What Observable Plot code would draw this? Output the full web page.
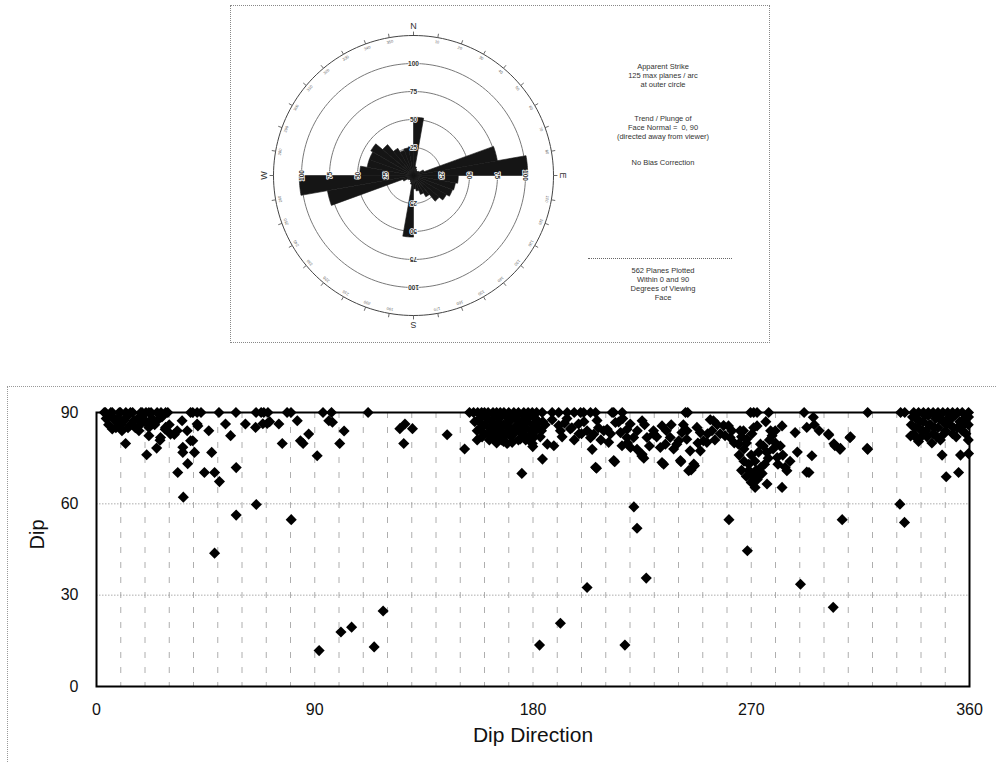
<!DOCTYPE html>
<html>
<head>
<meta charset="utf-8">
<script src="https://cdn.jsdelivr.net/npm/d3@7"></script>
<script src="https://cdn.jsdelivr.net/npm/@observablehq/plot@0.6"></script>
<style>
  body { margin: 0; background: #fff; font-family: "Liberation Sans", Arial, sans-serif; }
  #wrap { position: relative; width: 996px; height: 762px; overflow: hidden; background: #fff; }
  #rosebox { position: absolute; left: 230px; top: 5px; width: 538px; height: 336px; border: 1px dotted #888; }
  #rose { position: absolute; left: 0; top: 0; }
  #scatter { position: absolute; left: 0; top: 386px; }
  #scatterTop { position: absolute; left: 7px; top: 386px; width: 989px; height: 0; border-top: 1px dotted #999; }
  #scatterLeft { position: absolute; left: 7px; top: 386px; width: 0; height: 376px; border-left: 1px dotted #999; }
  .note { position: absolute; left: 583px; width: 160px; text-align: center; font-size: 7.5px; line-height: 9px; color: #333; }
  #noteRule { position: absolute; left: 588px; top: 258px; width: 144px; height: 0; border-top: 1px dotted #666; }
</style>
</head>
<body>
<div id="wrap">
  <div id="rosebox"><div id="rose"></div></div>
  <div class="note" style="top:62px">Apparent Strike<br>125 max planes / arc<br>at outer circle</div>
  <div class="note" style="top:114px">Trend / Plunge of<br>Face Normal =&nbsp; 0, 90<br>(directed away from viewer)</div>
  <div class="note" style="top:158px">No Bias Correction</div>
  <div id="noteRule"></div>
  <div class="note" style="top:266px">562 Planes Plotted<br>Within 0 and 90<br>Degrees of Viewing<br>Face</div>
  <div id="scatterTop"></div>
  <div id="scatterLeft"></div>
  <div id="scatter"></div>
</div>
<script>
// ---------------- Rose diagram data ----------------
const binStart = [0,10,20,30,40,50,60,70,80,90,100,110,120,130,140,150,160,170,
                  180,190,200,210,220,230,240,250,260,270,280,290,300,310,320,330,340,350];
const binCount = [52,8,6,5,5,6,10,76,102,40,38,37,34,30,22,18,14,12,
                  55,8,6,5,5,6,10,78,102,48,42,42,44,36,28,24,25,26];
const binWidth = 10;
const ringValues = [25, 50, 75, 100];
const outerValue = 125;
const degTicks = [0,10,20,30,40,50,60,70,80,90,100,110,120,130,140,150,160,170,
                  180,190,200,210,220,230,240,250,260,270,280,290,300,310,320,330,340,350];
const compassLabels = ["N", "E", "S", "W"];
const compassAz = [0, 90, 180, 270];

// ---------------- Scatter data (dip direction, dip) ----------------
const dipAt90 = [3.2,3.7,5.9,6.5,9.4,9.9,12.1,14.0,14.9,18.3,18.8,20.4,21.6,22.5,25.0,26.6,28.5,29.4,
  38.8,39.7,41.5,43.1,50.5,57.5,65.8,67.9,69.0,70.7,78.6,80.2,93.4,96.9,112.0,
  153.8,155.5,157.2,158.8,160.0,161.5,163.5,165.0,166.5,168.0,170.0,172.1,174.0,176.2,178.0,179.7,181.5,
  183.8,187.9,190.6,194.1,197.0,199.6,200.9,203.7,205.8,212.6,213.3,216.8,242.9,243.8,
  269.7,271.0,272.4,277.2,291.8,318.0,331.6,333.3,337.0,339.0,341.0,343.0,345.0,347.0,349.0,351.0,353.0,355.0,357.0,359.6];

const leftCluster = [[6.5,84.6],[7.1,87.8],[5,86],[8,85],[9,88],[10,86],[11.3,87.3],[12.0,79.8],[13,85],[15.4,87.3],
  [16,85],[17,88],[18,86],[19.5,87.8],[20.7,76.1],[21.6,85.1],[21.6,82.4],[23,88],[24,86],[24.8,78.3],[25.0,87.3],
  [26.2,80.9],[26.4,81.8],[28.3,84.5],[28.5,85.1],[30.5,82.9],[32.1,82.8],[33.3,84.0],[33.5,70.3],[35.3,87.3],
  [35.6,78.6],[35.6,76.9],[35.8,62.2],[37.4,84.0],[37.6,73.2],[38.8,80.7],[39.7,80.7],[40.4,76.9],[41.5,86.2],
  [41.8,85.6],[44.5,70.3],[46.3,84.0],[47.5,76.9],[48.7,70.3],[48.7,43.8],[50.7,67.3],[53.2,86.2],[55.3,82.4],
  [57.6,71.9],[57.6,56.3],[61.4,86.2],[65.6,85.1],[65.9,59.8],[68.6,86.3],[70.4,86.4],[71.4,87.0],[75.2,86.2],
  [76.6,79.8],[80.3,54.8],[82.8,87.3],[84.1,80.7],[85.2,79.8],[87.5,82.9],[91.0,75.8],[95.8,87.3],[97.3,86.8],
  [4,88],[6,89],[8,87.5],[10.5,84],[12.5,88.5],[14,86],[17.5,84],[20,87],[22.5,86],[27,88.5],[30,86]];

const midCluster = [[91.8,11.8],[100.3,79.8],[100.8,17.9],[102.1,83.9],[105.2,19.5],[114.5,13.0],[118.2,24.8],
  [125.1,84.7],[126.7,79.8],[127.2,86.2],[130.3,84.7],[144.6,82.7],[151.8,78.0]];

const southCluster = [[156,87],[157,84],[158,88],[158.5,85],[159,82],[160,86],[161,88],[161.5,83],[162,85],[163,87],
  [163.8,82.0],[164,84],[165,86],[165.2,82.6],[166,88],[166.5,84],[167,81],[167.9,80.5],[168,86],[169,83],[169.3,79.8],
  [170,87],[170.5,85],[171.4,80.2],[172,83],[173,88],[173.5,86],[174,84],[174.8,81.3],[175.5,87],[176,83],[177,85],
  [178,88],[178.5,82],[179.7,79.8],[180,86],[181,84],[182,87],[183,82],[175.4,70.0],[179.9,78.8],[183.9,74.7],
  [185.9,79.6],[185,86],[187.9,87.6],[188.6,79.1],
  [157,81],[159,86],[160,83],[160.5,89],[162,81],[163,84],[164,89],[165,80],[166,83],[167,86],[168,82],[168.5,89],
  [169.5,85],[171,82],[171.5,88],[172.5,85],[174,81],[175,85],[176,89],[177,81],[177.5,87],[179,84],[180.5,82],
  [181,88],[182,85],[183.5,84],[184,87]];

const southWestCluster = [[190.6,85.7],[191.3,84.0],[193,86.5],[195.4,84.6],[197,81],[198.8,86.2],[200,83],[202.3,84.0],
  [203.7,81.7],[204.4,77.9],[205.1,82.9],[205.8,72.0],[206.2,71.7],[206.4,87.4],[209.2,84.0],[210.6,84.5],[211.2,80.2],
  [213.3,74.2],[213.7,73.8],[214.0,86.7],[215.3,86.9],[216.1,83.4],[216.7,79.1],[218.7,81.8],[218.8,84.5],[220.1,86.2],
  [220.2,78.5],[221.5,81.8],[222.9,77.9],[224.9,75.7],[225.0,87.3],[225.0,76.3],[225.7,75.0],[227.0,81.8],[229.7,84.0],
  [229.8,82.9],[232.5,78.5],[233.2,85.6],[233.2,73.6],[233.9,73.0],[234.6,79.6],[236.6,81.8],[239.3,79.6],[240.1,80.7],
  [240.8,74.2],[241.0,73.8],[241.4,83.4],[243.4,81.2],[243.5,84.0],[244.2,70.9],[244.8,77.4],[245.2,71.1],[246.3,73.1],
  [246.6,72.5],[247.6,85.1],[249.0,83.4],[249.0,77.4],[250.3,80.7],[251.7,80.2],[253.1,87.6],[253.8,84.0],[254.4,87.3],
  [257.2,83.0],[258.6,85.7],[259.2,82.4],[260.6,85.6],[261.3,81.8],[264.7,79.6],[265.4,84.0],[266.8,84.0],
  [192,82],[194,88],[196,85],[199,83],[201,87],[207,85],[208,81],[212,83],[217,88],[219,80],[223,84],[226,86],
  [228,79],[231,82],[235,84],[237,86],[238,78],[242,86],[248,80],[252,83],[255,81],[256,86],[262,84],[263,80]];

const westCluster = [[266,71],[267,74],[268,69],[268.2,81.3],[269,73],[270,70],[270,76],[270.3,83.0],[271,68],[271,85],
  [272,71],[272.4,85.6],[273,69],[273,77],[273.8,79.6],[274,72],[275,79],[276.5,76.9],[277,75],[278,84],[278.6,82.4],
  [279,78],[279.9,84.0],[280.7,75.2],[281,73],[282.7,85.6],[283,76],[284,72],[284.7,70.9],[268,80],[265,76],
  [271.6,65.4],[276.5,66.5],[282.7,65.4],[276,87],[286,74],[288.1,83.4],[289,77],
  [266,82],[267,78],[269,71],[270,67],[271.5,74],[272.5,68],[274.5,70],[275.5,73],[277.5,81],[280,80],[282,79]];

const northWestCluster = [[292.9,85.1],[292.9,70.4],[293.8,70.3],[295.0,75.8],[295.6,88.4],[296,86],[298,84],[301.8,82.9],
  [302,82.6],[304.1,79.7],[304.5,79.1],[306.6,77.9],[306.8,78.2],[310.7,81.7],[310.9,82.0],[317.8,78.2],[318.0,77.9]];

const northCluster = [[335.7,82.3],[336,86],[337,83],[338,88],[338.5,81.3],[339,85],[340,82],[341,87],[342,84],[343,89],
  [344,86],[345,83],[346,88],[347,85],[348,81],[348.7,76],[349,87],[350,84],[350.4,68.9],[351,88],[352,86],[353,83],
  [354,89],[355,85],[355.5,70.3],[356,87],[356.3,76],[357,84],[358,88],[359.5,86],[359.5,81],[359.6,76.5],
  [336.5,88.5],[337.5,85],[339.5,87],[340.5,84],[341.5,89],[342.5,82],[343.5,86],[345.5,85],[346.5,82],[347.5,88],
  [349.5,83],[350.5,86],[352.5,88],[353.5,85],[354.5,82],[356.5,85],[357.5,86],[358.5,83],[359.6,88.5],[344.5,80],[339,80.5]];

const lowDipPoints = [[182.7,13.6],[191.3,20.8],[202.3,32.5],[217.9,13.6],[221.6,59.0],[222.9,52.0],[226.7,35.6],
  [260.8,54.8],[268.4,44.6],[290.3,33.6],[303.8,26.0],[307.5,54.8],[331.3,59.9],[333.2,53.9]];

const xTicks = [0, 90, 180, 270, 360];
const yTicks = [0, 30, 60, 90];
const xGrid = [10,20,30,40,50,60,70,80,90,100,110,120,130,140,150,160,170,180,190,200,210,220,230,240,250,260,270,280,290,300,310,320,330,340,350];
const yGrid = [30, 60];

// ---------------- Rose diagram ----------------
const rad = a => a * Math.PI / 180;
const px = (r, a) => r * Math.sin(rad(a));
const py = (r, a) => r * Math.cos(rad(a));

const sectorPts = binStart.flatMap((a0, i) => {
  const v = binCount[i];
  const pts = [{bin: i, r: 0, a: a0}];
  for (let k = 0; k <= binWidth; k++) pts.push({bin: i, r: v, a: a0 + k});
  pts.push({bin: i, r: 0, a: a0 + binWidth});
  return pts;
});
const circlePts = vals => vals.flatMap(v => d3.range(0, 362, 2).map(a => ({r: v, a})));

const ringLabels = ringValues.flatMap(v => compassAz.map(a => ({r: v, a})));

const rose = Plot.plot({
  width: 538, height: 336,
  marginLeft: 14, marginRight: 188, marginTop: 1, marginBottom: -1,
  x: {domain: [-150, 150], axis: null},
  y: {domain: [-150, 150], axis: null},
  style: {fontFamily: "Liberation Sans, Arial, sans-serif", background: "transparent"},
  marks: [
    Plot.line(circlePts(ringValues), {x: d => px(d.r, d.a), y: d => py(d.r, d.a), z: "r", stroke: "#6a6a6a", strokeWidth: 0.9}),
    Plot.line(circlePts([outerValue]), {x: d => px(d.r, d.a), y: d => py(d.r, d.a), z: "r", stroke: "#444", strokeWidth: 1}),
    Plot.link(degTicks, {x1: a => px(outerValue, a), y1: a => py(outerValue, a), x2: a => px(outerValue + 3.5, a), y2: a => py(outerValue + 3.5, a), stroke: "#444", strokeWidth: 0.8}),
    Plot.text(degTicks.filter(a => a % 90 !== 0), {x: a => px(outerValue - 4, a), y: a => py(outerValue - 4, a), text: a => String(a), rotate: a => a, fontSize: 4, fill: "#666"}),
    Plot.line(sectorPts, {x: d => px(d.r, d.a), y: d => py(d.r, d.a), z: "bin", fill: "#151515", stroke: "#151515", strokeWidth: 0.6, curve: "linear"}),
    Plot.text(ringLabels, {x: d => px(d.r, d.a), y: d => py(d.r, d.a), text: d => String(d.r), rotate: d => d.a, fontSize: 6.5, fontWeight: "bold", fill: "#333", stroke: "white", strokeWidth: 1.5}),
    Plot.text(compassLabels, {x: (d, i) => px(133, compassAz[i]), y: (d, i) => py(133, compassAz[i]), text: d => d, rotate: (d, i) => compassAz[i], fontSize: 9, fill: "#333"})
  ]
});
document.getElementById("rose").append(rose);

// ---------------- Scatter plot ----------------
const points = [
  ...dipAt90.map(dd => ({dd, dip: 90})),
  ...[...leftCluster, ...midCluster, ...southCluster, ...southWestCluster, ...westCluster,
      ...northWestCluster, ...northCluster, ...lowDipPoints].map(([dd, dip]) => ({dd, dip}))
];

const scatter = Plot.plot({
  width: 996, height: 376,
  marginLeft: 96, marginRight: 27, marginTop: 26, marginBottom: 76,
  style: {fontFamily: "Liberation Sans, Arial, sans-serif", fontSize: "16px", color: "#111", background: "transparent"},
  x: {domain: [0, 360], ticks: xTicks, tickSize: 0, tickPadding: 17, label: null},
  y: {domain: [0, 90], ticks: yTicks, tickSize: 0, tickPadding: 18, label: null},
  marks: [
    Plot.ruleX(xGrid, {stroke: "#999", strokeWidth: 0.8, strokeDasharray: "6,9"}),
    Plot.ruleY(yGrid, {stroke: "#999", strokeWidth: 0.8, strokeDasharray: "1.5,1.5"}),
    Plot.frame({stroke: "#000", strokeWidth: 2}),
    Plot.dot(points, {x: "dd", y: "dip", symbol: "diamond2", r: 5, fill: "#000", stroke: "none"}),
    Plot.text(["Dip"], {frameAnchor: "left", dx: -59, rotate: -90, text: d => d, fontSize: 20, fill: "#111"}),
    Plot.text(["Dip Direction"], {frameAnchor: "bottom", dy: 55, text: d => d, fontSize: 21, fill: "#111"})
  ]
});
document.getElementById("scatter").append(scatter);
</script>
</body>
</html>
